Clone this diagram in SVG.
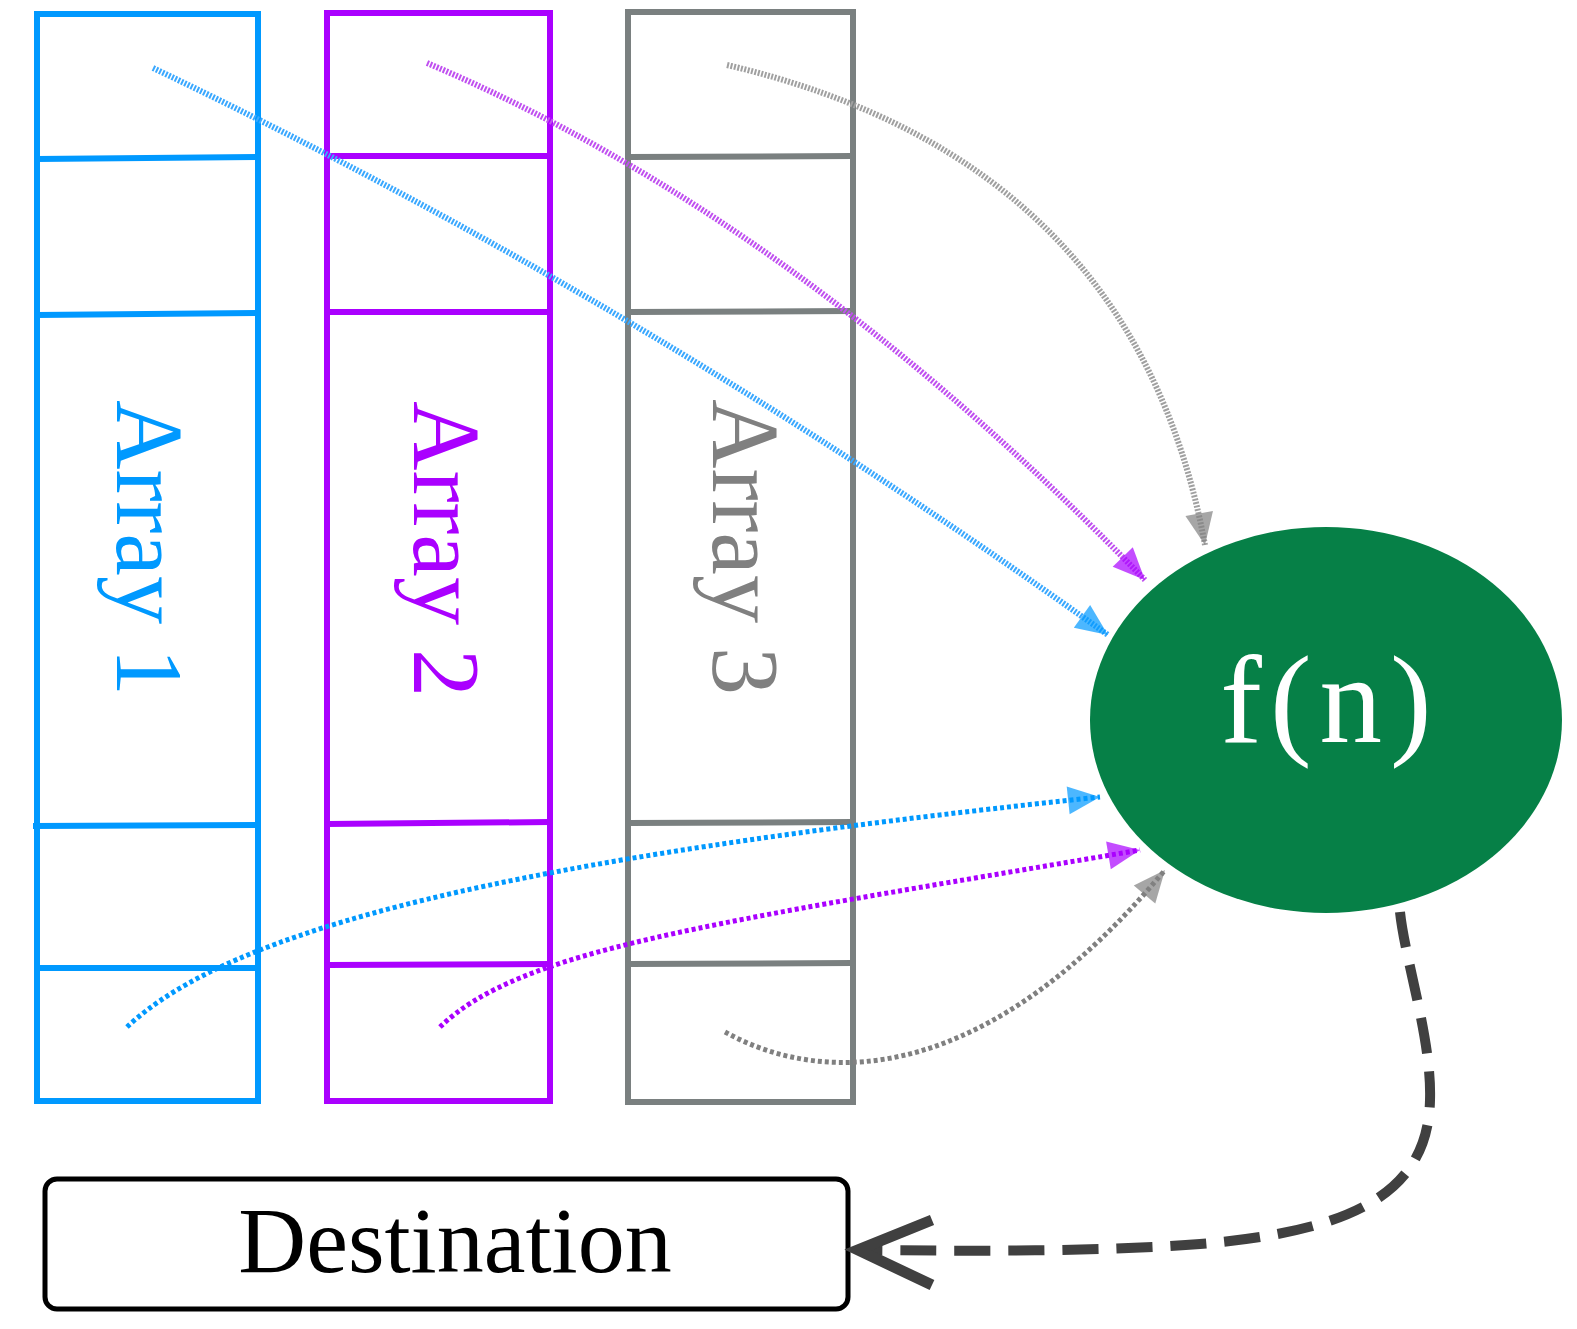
<svg xmlns="http://www.w3.org/2000/svg" width="1577" height="1329" viewBox="0 0 1577 1329">
<style>
.box{fill:none;stroke-width:6}
.blue{stroke:#0099ff}
.purple{stroke:#aa00ff}
.grey{stroke:#7a8080}
.lbl{font-family:"Liberation Serif","Times New Roman",serif;font-size:96px;text-anchor:middle}
.top{fill:none;stroke-width:6;stroke-dasharray:2 1.5}
.bot{fill:none;stroke-width:5;stroke-dasharray:4 3}
</style>
<defs>
<marker id="mb" markerWidth="40" markerHeight="40" refX="0" refY="0" markerUnits="userSpaceOnUse" orient="auto" viewBox="-40 -20 40 40"><path d="M-32,-14 L0,0 L-32,14 Z" fill="#0099ff" fill-opacity="0.7"/></marker>
<marker id="mp" markerWidth="40" markerHeight="40" refX="0" refY="0" markerUnits="userSpaceOnUse" orient="auto" viewBox="-40 -20 40 40"><path d="M-32,-14 L0,0 L-32,14 Z" fill="#aa00ff" fill-opacity="0.7"/></marker>
<marker id="mg" markerWidth="40" markerHeight="40" refX="0" refY="0" markerUnits="userSpaceOnUse" orient="auto" viewBox="-40 -20 40 40"><path d="M-32,-14 L0,0 L-32,14 Z" fill="#808080" fill-opacity="0.7"/></marker>
</defs>
<rect width="1577" height="1329" fill="#ffffff"/>

<g id="array1">
<rect class="box blue" x="37" y="14" width="221" height="1087"/>
<line class="blue" stroke-width="6" x1="37" y1="159" x2="258" y2="157"/>
<line class="blue" stroke-width="6" x1="37" y1="315" x2="258" y2="313"/>
<line class="blue" stroke-width="6" x1="33" y1="826" x2="258" y2="825"/>
<line class="blue" stroke-width="6" x1="37" y1="968" x2="258" y2="968"/>
<text class="lbl" fill="#0099ff" transform="translate(117,548) rotate(90)">Array 1</text>
</g>

<g id="array2">
<rect class="box purple" x="327" y="13" width="223" height="1088"/>
<line class="purple" stroke-width="6" x1="327" y1="156" x2="550" y2="156"/>
<line class="purple" stroke-width="6" x1="327" y1="312" x2="550" y2="312"/>
<line class="purple" stroke-width="6" x1="327" y1="824" x2="550" y2="822"/>
<line class="purple" stroke-width="6" x1="327" y1="965" x2="550" y2="964"/>
<text class="lbl" fill="#aa00ff" transform="translate(414,549) rotate(90)">Array 2</text>
</g>

<g id="array3">
<rect class="box grey" x="628" y="12" width="225" height="1090"/>
<line class="grey" stroke-width="6" x1="628" y1="157" x2="853" y2="156"/>
<line class="grey" stroke-width="6" x1="628" y1="312" x2="853" y2="311"/>
<line class="grey" stroke-width="6" x1="628" y1="823" x2="853" y2="822"/>
<line class="grey" stroke-width="6" x1="628" y1="964" x2="853" y2="963"/>
<text class="lbl" fill="#808080" transform="translate(713,547) rotate(90)">Array 3</text>
</g>

<g id="fn">
<ellipse cx="1326" cy="720" rx="236" ry="193" fill="#068047"/>
<text x="1330" y="742" fill="#ffffff" font-family="Liberation Serif, 'DejaVu Serif', serif" font-size="125" letter-spacing="8" text-anchor="middle">f(n)</text>
</g>

<g id="destination">
<rect x="45" y="1179" width="803" height="130" rx="12" fill="#ffffff" stroke="#000000" stroke-width="5"/>
<text x="455" y="1272" fill="#000000" font-family="Liberation Serif, 'Times New Roman', serif" font-size="94" text-anchor="middle">Destination</text>
</g>

<g id="connectors">
<path class="top" stroke="#3aa8ff" d="M153,68 Q640,300 1108,635" marker-end="url(#mb)"/>
<path class="top" stroke="#c050f0" d="M427,63 Q794,218 1145,580" marker-end="url(#mp)"/>
<path class="top" stroke="#a0a0a0" d="M727,65 Q1134,160 1205,545" marker-end="url(#mg)"/>
<path class="bot" stroke="#0099ff" d="M127,1027 C230,930 500,860 1100,797" marker-end="url(#mb)"/>
<path class="bot" stroke="#aa00ff" d="M440,1027 C520,950 700,925 1140,850" marker-end="url(#mp)"/>
<path class="bot" stroke="#808080" d="M725,1032 C830,1090 990,1080 1165,870" marker-end="url(#mg)"/>
<path d="M1400,912 C1405,960 1432,1040 1430,1100 C1428,1200 1340,1232 1200,1244 C1100,1252 960,1251 862,1250" fill="none" stroke="#404040" stroke-width="10" stroke-dasharray="36 18"/>
<path d="M932,1220 L858,1250 L932,1285" fill="none" stroke="#404040" stroke-width="11"/>
</g>
</svg>
